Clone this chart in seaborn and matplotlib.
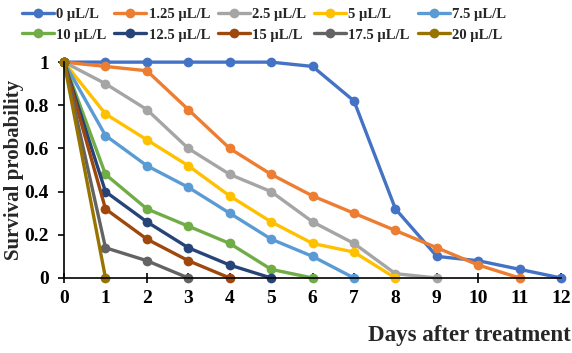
import numpy as np
import pandas as pd
import matplotlib
matplotlib.use("Agg")
import matplotlib.pyplot as plt
import seaborn as sns

# ---- data ----
doses = ['0 µL/L', '1.25 µL/L', '2.5 µL/L', '5 µL/L', '7.5 µL/L',
         '10 µL/L', '12.5 µL/L', '15 µL/L', '17.5 µL/L', '20 µL/L']
surv_0    = [1, 1, 1, 1, 1, 1, 0.98, 0.82, 0.32, 0.10, 0.08, 0.04, 0]
surv_1_25 = [1, 0.98, 0.96, 0.78, 0.60, 0.48, 0.38, 0.30, 0.22, 0.14, 0.06, 0]
surv_2_5  = [1, 0.90, 0.78, 0.60, 0.48, 0.40, 0.26, 0.16, 0.02, 0]
surv_5    = [1, 0.76, 0.64, 0.52, 0.38, 0.26, 0.16, 0.12, 0]
surv_7_5  = [1, 0.66, 0.52, 0.42, 0.30, 0.18, 0.10, 0]
surv_10   = [1, 0.48, 0.32, 0.24, 0.16, 0.04, 0]
surv_12_5 = [1, 0.40, 0.26, 0.14, 0.06, 0]
surv_15   = [1, 0.32, 0.18, 0.08, 0]
surv_17_5 = [1, 0.14, 0.08, 0]
surv_20   = [1, 0]
series = [surv_0, surv_1_25, surv_2_5, surv_5, surv_7_5,
          surv_10, surv_12_5, surv_15, surv_17_5, surv_20]
colors = ['#4472C4', '#ED7D31', '#A5A5A5', '#FFC000', '#5B9BD5',
          '#70AD47', '#264478', '#9E480E', '#636363', '#997300']
x_ticks = list(range(0, 13))
y_ticks = [0, 0.2, 0.4, 0.6, 0.8, 1]
y_labels = ['0', '0.2', '0.4', '0.6', '0.8', '1']

rows = []
for name, vals in zip(doses, series):
    for day, v in enumerate(vals):
        rows.append({'Dose': name, 'Day': day, 'Survival': v})
df = pd.DataFrame(rows)

sns.set_style("ticks")
plt.rcParams['font.family'] = ['Liberation Serif', 'DejaVu Serif']
plt.rcParams['font.weight'] = 'bold'

fig = plt.figure(figsize=(5.72, 3.53), dpi=100)
ax = fig.add_axes([0.112, 0.2125, 0.869, 0.6115])

sns.lineplot(data=df, x='Day', y='Survival', hue='Dose', hue_order=doses,
             palette=colors, marker='o', markersize=7, markeredgewidth=0,
             linewidth=2.4, ax=ax, legend=False, clip_on=False)

ax.set_xlim(0, 12)
ax.set_ylim(0, 1)
ax.set_xticks(x_ticks)
ax.set_xticklabels([str(t) for t in x_ticks], fontsize=14, fontweight='bold')
ax.set_yticks(y_ticks)
ax.set_yticklabels(y_labels, fontsize=14, fontweight='bold')
ax.tick_params(axis='x', direction='inout', length=7, width=1.2, pad=5, colors='black')
ax.tick_params(axis='y', direction='out', length=4, width=1.2, pad=7, colors='black')
for s in ['top', 'right']:
    ax.spines[s].set_visible(False)
for s in ['left', 'bottom']:
    ax.spines[s].set_linewidth(1.2)
    ax.spines[s].set_color('black')
ax.set_xlabel('')
ax.set_ylabel('Survival probability', fontsize=15, fontweight='bold', labelpad=0)

fig.text(0.997, 0.02, 'Days after treatment', ha='right', va='bottom',
         fontsize=16.5, fontweight='bold')

# legend, row-major order like the original (matplotlib fills column-wise)
handles = [plt.Line2D([], [], color=c, marker='o', markersize=7,
                      markeredgewidth=0, linewidth=2.4) for c in colors]
order = [0, 5, 1, 6, 2, 7, 3, 8, 4, 9]
fig.legend([handles[i] for i in order], [doses[i] for i in order],
           ncol=5, loc='upper left', bbox_to_anchor=(0.015, 1.015),
           frameon=False, handlelength=2.2, handletextpad=0.15,
           columnspacing=0.55, labelspacing=0.5,
           prop={'size': 10.5, 'weight': 'bold', 'family': 'Liberation Serif'})

fig.savefig('out.png', dpi=100)
